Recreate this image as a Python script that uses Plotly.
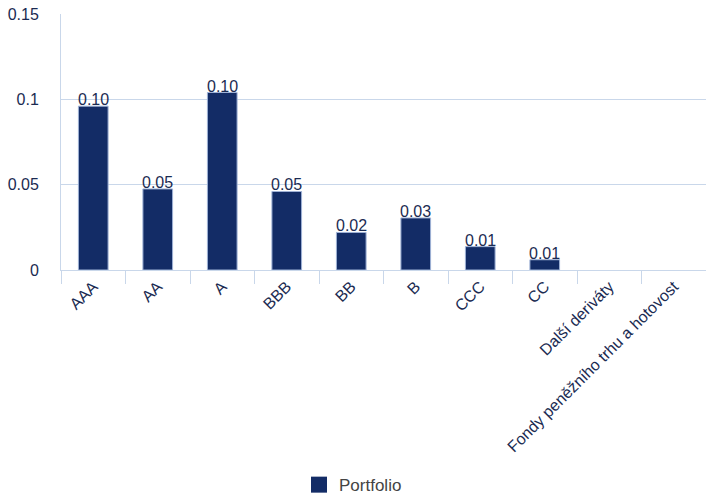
import plotly.graph_objects as go

categories = ["AAA", "AA", "A", "BBB", "BB", "B", "CCC", "CC", "Další deriváty", "Fondy peněžního trhu a hotovost"]
portfolio = [0.096, 0.0475, 0.104, 0.046, 0.022, 0.0305, 0.0137, 0.006, 0, 0]
labels = [f"{v:.2f}" for v in portfolio]
y_ticks = [0, 0.05, 0.1, 0.15]
y_tick_text = ["0", "0.05", "0.1", "0.15"]

navy = "#132c66"
grid = "#c9d7ea"
txt = "#1b2b52"
font_family = "Liberation Sans, Arial, sans-serif"

fig = go.Figure()
fig.add_trace(go.Bar(
    x=categories, y=portfolio, name="Portfolio", showlegend=False,
    marker=dict(color=navy,
                line=dict(color="#9fb2d6", width=[1 if v > 0 else 0 for v in portfolio])),
    width=0.46,
))
# legend entry with a larger square swatch
fig.add_trace(go.Scatter(
    x=[None], y=[None], mode="markers", name="Portfolio",
    marker=dict(symbol="square", size=16, color=navy),
))
for c, v, t in zip(categories, portfolio, labels):
    if v > 0:
        fig.add_annotation(x=c, y=v, text=t, showarrow=False, yanchor="bottom",
                           yshift=-4, font=dict(size=16, color=txt, family=font_family))

fig.update_layout(
    width=706, height=495,
    margin=dict(l=61, r=0, t=14, b=225, autoexpand=False),
    plot_bgcolor="white", paper_bgcolor="white",
    font=dict(family=font_family, size=16, color=txt),
    showlegend=True,
    legend=dict(orientation="h", xref="container", x=0.5, xanchor="center",
                yref="container", y=0.02, yanchor="middle",
                font=dict(color="#444444", size=17)),
    bargap=0.54,
)
fig.update_yaxes(range=[0, 0.15], tickvals=y_ticks, ticktext=y_tick_text,
                 showgrid=True, gridcolor=grid, gridwidth=1,
                 showline=True, linecolor=grid, linewidth=1,
                 zeroline=False, ticks="", ticklabelstandoff=18,
                 tickfont=dict(size=16, color=txt))
fig.update_xaxes(tickangle=-45, ticks="outside", tickson="boundaries",
                 ticklen=13, tickcolor=grid, tickwidth=1,
                 showline=True, linecolor=grid, linewidth=1,
                 showgrid=False, tickfont=dict(size=16, color=txt))
fig.write_html("out.html")
